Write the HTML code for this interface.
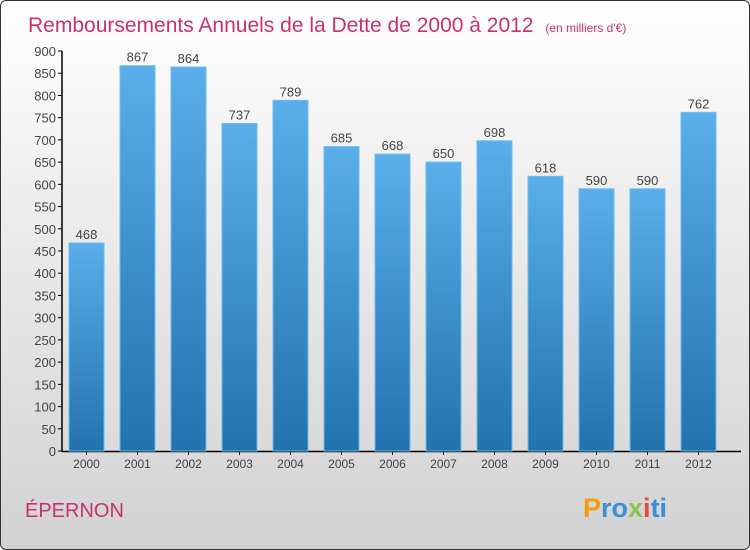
<!DOCTYPE html>
<html><head><meta charset="utf-8"><style>
html,body{margin:0;padding:0}
body{width:750px;height:550px;overflow:hidden;font-family:"Liberation Sans",sans-serif}
#frame{position:absolute;left:0;top:0;width:748px;height:548px;border:1px solid #333;border-radius:6px;background:linear-gradient(#ffffff 0%,#ececec 40%,#d2d2d2 100%);overflow:hidden}
</style></head><body>
<div id="frame">
<svg id="chart" width="750" height="550">
<defs><linearGradient id="bg" x1="0" y1="0" x2="0" y2="1"><stop offset="0" stop-color="#5aaeea"/><stop offset="1" stop-color="#2272ad"/></linearGradient></defs>
<text x="27" y="31" font-size="21" fill="#c8326e">Remboursements Annuels de la Dette de 2000 à 2012 <tspan font-size="12" dx="6">(en milliers d'€)</tspan></text>
<text x="24" y="516" font-size="20" fill="#c8326e">ÉPERNON</text>
<text x="582" y="516" font-size="27" font-weight="bold"><tspan fill="#f39c12">P</tspan><tspan fill="#3b8fd6">ro</tspan><tspan fill="#8bc34a">x</tspan><tspan fill="#e74c3c">i</tspan><tspan fill="#3b8fd6">ti</tspan></text>
<g id="axes"></g><g id="bars"></g>
</svg>
</div>
<script>
const categories=["2000","2001","2002","2003","2004","2005","2006","2007","2008","2009","2010","2011","2012"];
const values=[468,867,864,737,789,685,668,650,698,618,590,590,762];
const yTicks=[0,50,100,150,200,250,300,350,400,450,500,550,600,650,700,750,800,850,900];
const NS="http://www.w3.org/2000/svg";
const y0=450,yTop=50,yMax=900,x0=62,band=51,bw=35,off=6;
const y=v=>y0-(v/yMax)*(y0-yTop);
const x=i=>x0+i*band+off;
function mk(t,a,p){const e=document.createElementNS(NS,t);for(const k in a)e.setAttribute(k,a[k]);p.appendChild(e);return e;}
const ax=document.getElementById('axes'),bars=document.getElementById('bars');
let l=mk('line',{x1:61,y1:yTop,x2:61,y2:y0+1,stroke:'#000','stroke-width':1.5},ax);


l=mk('line',{x1:61,y1:y0+0.5,x2:740,y2:y0+0.5,stroke:'#000','stroke-width':1.5},ax);


yTicks.forEach(v=>{
 mk('line',{x1:57,x2:61,y1:y(v),y2:y(v),stroke:'#000'},ax);
 const t=mk('text',{x:55,y:y(v)+5,'text-anchor':'end','font-size':13,fill:'#444'},ax);t.textContent=v;
 
 
});
categories.forEach((c,i)=>{
 const cx=x(i)+bw/2;
 mk('line',{x1:cx,x2:cx,y1:y0,y2:y0+4,stroke:'#000'},ax);
 const t=mk('text',{x:cx,y:y0+17,'text-anchor':'middle','font-size':12,fill:'#444'},ax);t.textContent=c;
 
 
 const r=mk('rect',{x:x(i),y:y(values[i]),width:bw,height:y0-y(values[i]),fill:'url(#bg)',stroke:'#6bbcf0','stroke-width':1},bars);
 
 
 const vt=mk('text',{x:cx,y:y(values[i])-4,'text-anchor':'middle','font-size':13,fill:'#444'},bars);vt.textContent=values[i];
 
 
});
</script>
</body></html>
